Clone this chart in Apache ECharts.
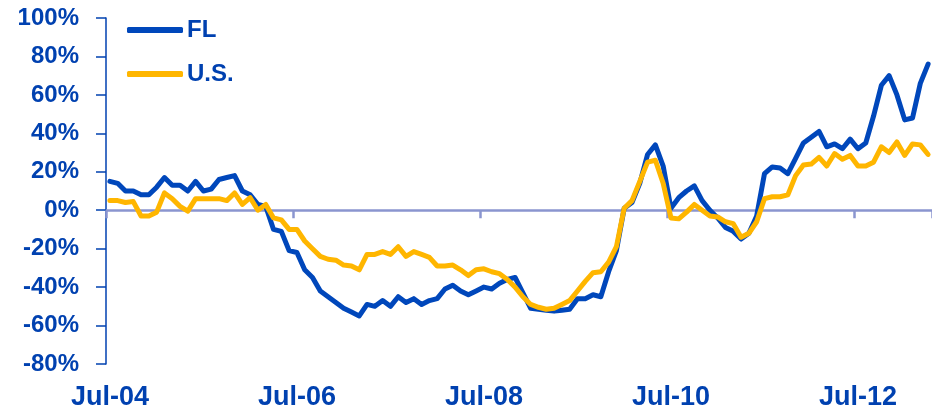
<!DOCTYPE html>
<html>
<head>
<meta charset="utf-8">
<script src="https://cdn.jsdelivr.net/npm/echarts@6/dist/echarts.min.js"></script>
<style>
  html, body { margin: 0; padding: 0; background: #ffffff; }
  #chart { width: 932px; height: 416px; }
</style>
</head>
<body>
<div id="chart"></div>
<script>
// Monthly year-over-year change, Jul-04 through Apr-13 (percent)
const monthNames = ['Jan','Feb','Mar','Apr','May','Jun','Jul','Aug','Sep','Oct','Nov','Dec'];
const startYear = 2004, startMonth = 6, monthCount = 106;
const categories = [];
for (let k = 0; k < monthCount; k++) {
  const m = (startMonth + k) % 12;
  const y = startYear + Math.floor((startMonth + k) / 12);
  categories.push(monthNames[m] + '-' + String(y % 100).padStart(2, '0'));
}

const flValues = [
  15, 14, 10, 10, 8, 8, 12, 17, 13, 13, 10, 15,
  10, 11, 16, 17, 18, 10, 8, 3, 2, -10, -11, -21,
  -22, -31, -35, -42, -45, -48, -51, -53, -55, -49, -50, -47,
  -50, -45, -48, -46, -49, -47, -46, -41, -39, -42, -44, -42,
  -40, -41, -38, -36, -35, -43, -51, -51.5, -52, -52.5, -52, -51.5,
  -46, -46, -44, -45, -32, -21, 1, 4, 14, 29, 34, 23,
  1, 6.5, 10, 12.7, 5, 0, -4, -9, -11, -15, -12, -3,
  19, 22.5, 22, 19, 27, 35, 38, 41, 33, 34.5, 32, 37,
  32, 35, 49, 65, 70, 60, 47, 48, 66, 76
];

const usValues = [
  5, 5, 4, 4.5, -3, -3, -1, 9, 6, 2, -0.5, 6,
  6, 6, 6, 5, 9, 3, 6.5, 0, 3, -4, -5, -10,
  -10, -16, -20, -24, -25.5, -26, -28.5, -29, -31, -23, -23, -21.5,
  -23, -19, -24, -21.5, -23, -24.5, -29, -29, -28.5, -31, -34, -31,
  -30.5, -32, -33, -36, -40, -45, -49, -50.5, -51.5, -51, -49, -47,
  -42, -37, -32.5, -32, -27, -19, 1, 5, 15, 25, 26, 14,
  -4, -4.5, -1, 3, 0, -3, -3.5, -6, -7, -14, -12, -6,
  6, 7, 7, 8, 18, 23.5, 24, 27.5, 23, 29.5, 26.5, 28.5,
  23, 23, 25, 33, 30, 35.5, 28.5, 34.5, 34, 29
];

const yTickStep = 20;
const seriesNames = ['FL', 'U.S.'];

const textBlue = '#0041b0';
const flColor = '#0047bb';
const usColor = '#ffb600';
const zeroLineColor = '#8a95cf';
const fontFamily = '"Liberation Sans", Arial, sans-serif';

const chart = echarts.init(document.getElementById('chart'), null, { renderer: 'canvas' });

chart.setOption({
  animation: false,
  backgroundColor: '#ffffff',
  grid: { left: 106, right: 0, top: 18, bottom: 52, containLabel: false },
  legend: {
    orient: 'vertical',
    left: 122,
    top: 13,
    itemGap: 20,
    itemWidth: 56,
    itemHeight: 6,
    icon: 'roundRect',
    data: seriesNames,
    textStyle: {
      color: textBlue,
      fontFamily: fontFamily,
      fontWeight: 'bold',
      fontSize: 24,
      padding: [0, 0, 0, -1]
    }
  },
  xAxis: [
    {
      // zero line with yearly ticks
      type: 'category',
      data: categories,
      boundaryGap: true,
      position: 'bottom',
      axisLine: { show: true, onZero: true, lineStyle: { color: zeroLineColor, width: 2.5 } },
      axisTick: { show: true, interval: 23, length: 8, lineStyle: { color: zeroLineColor, width: 2.5 } },
      axisLabel: { show: false },
      splitLine: { show: false }
    },
    {
      // date labels along the bottom
      type: 'category',
      data: categories,
      boundaryGap: true,
      position: 'bottom',
      axisLine: { show: false, onZero: false },
      axisTick: { show: false },
      axisLabel: {
        show: true,
        interval: 23,
        margin: 20,
        color: textBlue,
        fontFamily: fontFamily,
        fontWeight: 'bold',
        fontSize: 27
      },
      splitLine: { show: false }
    }
  ],
  yAxis: {
    type: 'value',
    min: -80,
    max: 100,
    interval: yTickStep,
    axisLine: { show: true, lineStyle: { color: textBlue, width: 1.5 } },
    axisTick: { show: true, length: 10, lineStyle: { color: textBlue, width: 1.5 } },
    axisLabel: {
      formatter: '{value}%',
      margin: 27,
      color: textBlue,
      fontFamily: fontFamily,
      fontWeight: 'bold',
      fontSize: 24
    },
    splitLine: { show: false }
  },
  series: [
    {
      name: seriesNames[0],
      type: 'line',
      xAxisIndex: 0,
      data: flValues,
      symbol: 'none',
      color: flColor,
      lineStyle: { color: flColor, width: 5, cap: 'round', join: 'round' }
    },
    {
      name: seriesNames[1],
      type: 'line',
      xAxisIndex: 0,
      data: usValues,
      symbol: 'none',
      color: usColor,
      lineStyle: { color: usColor, width: 5, cap: 'round', join: 'round' }
    }
  ]
});
</script>
</body>
</html>
